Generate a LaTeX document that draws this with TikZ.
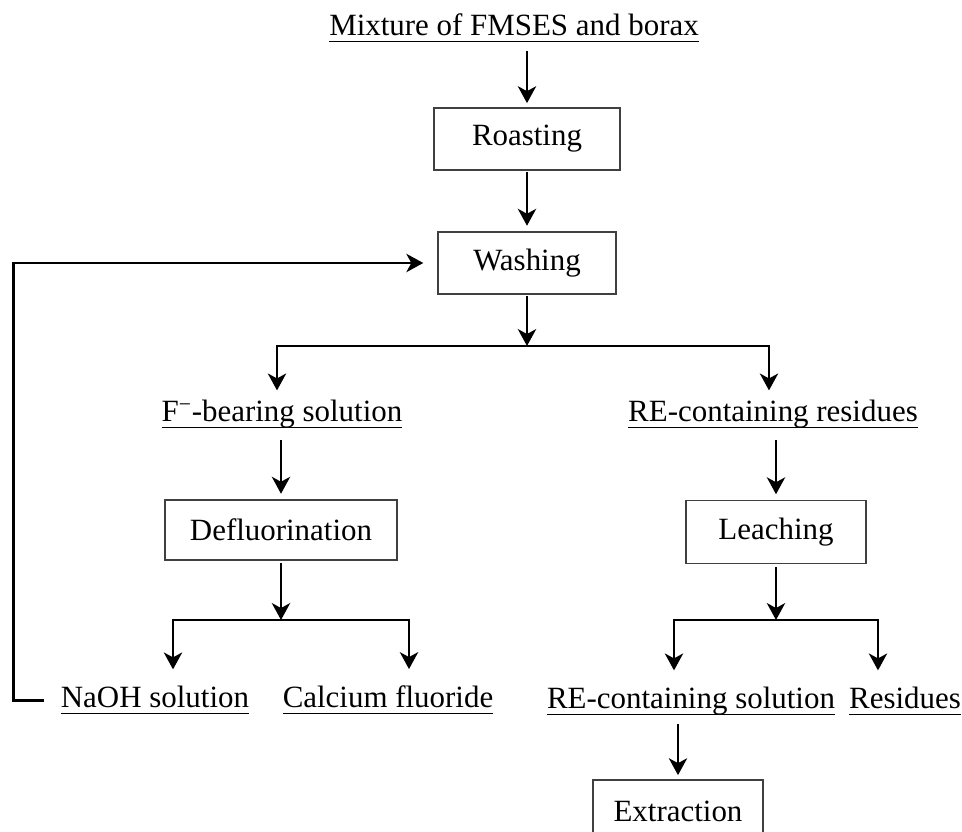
\documentclass[tikz,border=0pt]{standalone}
\usepackage{fontspec}
\setmainfont{Liberation Serif}
\usetikzlibrary{arrows.meta}
\newcommand{\ulbl}[1]{\setbox0\hbox{#1}\rlap{\rule[-4.5pt]{\wd0}{1.2pt}}\box0}
\tikzset{
  procbox/.style={draw=black!75, line width=0.9pt, minimum height=1.55cm, inner sep=0pt},
  product/.style={anchor=base, inner sep=0pt},
  flow/.style={line width=1.8pt, -{Stealth[length=12pt,width=13pt,inset=3.5pt]}},
  fork/.style={line width=1.8pt, {Stealth[length=12pt,width=13pt,inset=3.5pt]}-{Stealth[length=12pt,width=13pt,inset=3.5pt]}},
}
\begin{document}
\begin{tikzpicture}[x=0.025cm,y=-0.025cm,font=\fontsize{22}{26}\selectfont]
\useasboundingbox (0,0) rectangle (962,832);
\clip (0,0) rectangle (962,832);

\node[product] (mix) at (514,36) {\ulbl{Mixture of FMSES and borax}};
\node[procbox, minimum width=4.65cm] (roast) at (527,139) {Roasting};
\node[procbox, minimum width=4.45cm] (wash) at (527,263) {Washing};
\node[product] (fsol) at (282,422) {\ulbl{F\textsuperscript{−}-bearing solution}};
\node[product] (rres) at (773,422) {\ulbl{RE-containing residues}};
\node[procbox, minimum width=5.8cm, minimum height=1.5cm] (defl) at (281,530) {Defluorination};
\node[procbox, minimum width=4.5cm, minimum height=1.575cm] (leach) at (776,532) {Leaching};
\node[product] (naoh) at (155,708) {\ulbl{NaOH solution}};
\node[product] (caf) at (388,708) {\ulbl{Calcium fluoride}};
\node[product] (rsol) at (691,709) {\ulbl{RE-containing solution}};
\node[product] (resi) at (905,709) {\ulbl{Residues}};
\node[procbox, minimum width=4.25cm] (extr) at (678,811) {Extraction};

% split points
\coordinate (wsplit) at (527,346);
\coordinate (fl) at (277,346);
\coordinate (fr) at (769,346);
\coordinate (dsplit) at (281,620);
\coordinate (dl) at (173,620);
\coordinate (dr) at (409,620);
\coordinate (lsplit) at (776,620);
\coordinate (ll) at (674,620);
\coordinate (lr) at (878,620);

\draw[flow, shorten <=6pt, shorten >=3pt] (mix.south -| roast) -- (roast.north);
\draw[flow, shorten <=1pt, shorten >=4pt] (roast.south) -- (wash.north);
\draw[flow, shorten <=1pt] (wash.south) -- (wsplit);
\draw[fork, shorten <=7pt, shorten >=7pt] (fsol.north -| fl) -- (fl) -- (fr) -- (rres.north -| fr);

\draw[flow, shorten <=8pt, shorten >=4pt] (fsol.south -| defl.north) -- (defl.north);
\draw[flow, shorten <=8pt, shorten >=4pt] (rres.south -| leach.north) -- (leach.north);

\draw[flow, shorten <=2pt] (defl.south) -- (dsplit);
\draw[fork, shorten <=12pt, shorten >=12pt] (naoh.north -| dl) -- (dl) -- (dr) -- (caf.north -| dr);
\draw[flow, shorten <=2pt] (leach.south) -- (lsplit);
\draw[fork, shorten <=12pt, shorten >=12pt] (rsol.north -| ll) -- (ll) -- (lr) -- (resi.north -| lr);

\draw[flow, shorten <=6pt, shorten >=3pt] (rsol.south -| extr.north) -- (extr.north);

% recycle of NaOH
\draw[flow, shorten <=12pt, shorten >=10pt] (naoh.west) -- ++(-47,0) |- (wash.west);
\end{tikzpicture}
\end{document}
